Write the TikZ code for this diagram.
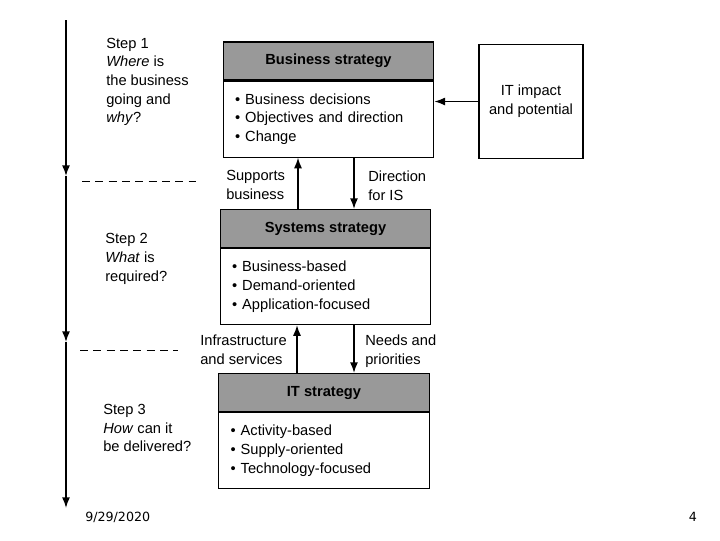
\documentclass[tikz,border=0pt]{standalone}
\usepackage{fontspec}
\setmainfont{Liberation Sans}
\newfontfamily\datefont{DejaVu Sans}
\usetikzlibrary{positioning,arrows.meta}
\tikzset{
  hdr/.style={draw, line width=0.8pt, fill=black!40, minimum width=158pt,
    minimum height=28.5pt, inner sep=0pt, font=\fontsize{11}{14}\selectfont\bfseries},
  body/.style={draw, line width=0.8pt, minimum height=57pt, text width=140pt,
    align=left, inner xsep=9pt},
  lbl/.style={align=left, inner sep=0pt, anchor=west},
  flow/.style={line width=1.1pt, -{Latex[length=8pt,width=6pt]}},
  sep/.style={line width=0.6pt, dash pattern=on 6pt off 4pt},
}
\begin{document}
\begin{tikzpicture}[x=0.75pt,y=-0.75pt,font=\fontsize{11}{14}\selectfont]
  \useasboundingbox (0,0) rectangle (720,540);
  \coordinate (t0) at (66,20);
  \coordinate (t1) at (66,176);
  \coordinate (t2) at (66,342);
  \coordinate (t3) at (66,508);
  \draw[flow] (t0) -- (t1);
  \draw[flow] (t1) -- (t2);
  \draw[flow] (t2) -- (t3);
  \draw[sep] (82,181) -- (196,181);
  \draw[sep] (80,350) -- (178,350);

  \node[lbl] (step1) at (106,82) {Step 1\\\textit{Where} is\\the business\\going and\\\textit{why}?};
  \node[lbl] (step2) at (105,259) {Step 2\\\textit{What} is\\required?};
  \node[lbl] (step3) at (103,428) {Step 3\\\textit{How} can it\\be delivered?};

  \node[hdr] (bs) at (328.5,61) {Business strategy};
  \node[body, below=0pt of bs] (bsb) {\textbullet\ Business decisions\\\textbullet\ Objectives and direction\\\textbullet\ Change};
  \node[hdr] (ss) at (325.5,228.5) {Systems strategy};
  \node[body, below=0pt of ss] (ssb) {\textbullet\ Business-based\\\textbullet\ Demand-oriented\\\textbullet\ Application-focused};
  \node[hdr] (its) at (324,392.5) {IT strategy};
  \node[body, below=0pt of its] (itsb) {\textbullet\ Activity-based\\\textbullet\ Supply-oriented\\\textbullet\ Technology-focused};

  \node[draw, line width=0.8pt, minimum width=78pt, minimum height=85pt, align=center] (itp) at (531,101.5) {IT impact\\and potential};
  \draw[flow] (itp.west) -- (itp.west -| bsb.east);

  \coordinate (up1) at (298,0);
  \coordinate (dn1) at (354,0);
  \coordinate (up2) at (297,0);
  \coordinate (dn2) at (354,0);
  \draw[flow] (up1 |- ss.north) -- (up1 |- bsb.south);
  \draw[flow] (dn1 |- bsb.south) -- (dn1 |- ss.north);
  \draw[flow] (up2 |- its.north) -- (up2 |- ssb.south);
  \draw[flow] (dn2 |- ssb.south) -- (dn2 |- its.north);

  \node[lbl] (sup) at (226,185) {Supports\\business};
  \node[lbl] (dir) at (368,186) {Direction\\for IS};
  \node[lbl] (inf) at (200,350) {Infrastructure\\and services};
  \node[lbl] (need) at (365,351) {Needs and\\priorities};

  \node[lbl, font=\datefont\fontsize{9.5}{11}\selectfont] (date) at (85,517) {9/29/2020};
  \node[font=\datefont\fontsize{9.5}{11}\selectfont] (page) at (693,517) {4};
\end{tikzpicture}
\end{document}
